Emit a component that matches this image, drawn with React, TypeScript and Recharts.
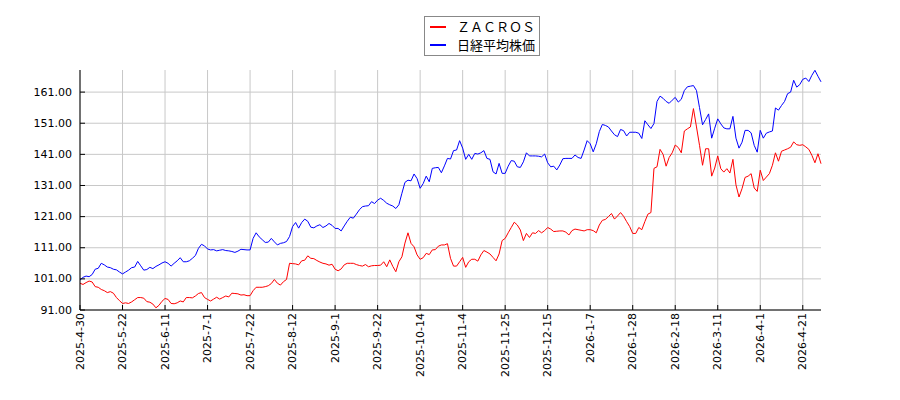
import React from 'react';
import { LineChart, Line, XAxis, YAxis, CartesianGrid } from 'recharts';

// trading-day tick labels, one every 14 sessions
const tickLabels = [
  '2025-4-30', '2025-5-22', '2025-6-11', '2025-7-1', '2025-7-22', '2025-8-12',
  '2025-9-1', '2025-9-22', '2025-10-14', '2025-11-4', '2025-11-25', '2025-12-15',
  '2026-1-7', '2026-1-28', '2026-2-18', '2026-3-11', '2026-4-1', '2026-4-21',
];

const yTicks = [91, 101, 111, 121, 131, 141, 151, 161];

const zacros = [
  99.6, 99.2, 99.8, 100.3, 100.0, 98.5, 98.3, 97.6, 97.2, 96.6,
  96.9, 96.4, 95.0, 94.0, 93.1, 93.3, 93.1, 93.6, 94.3, 95.0,
  95.0, 94.8, 93.7, 93.5, 92.9, 91.7, 92.5, 93.8, 94.7, 94.4,
  93.1, 93.0, 93.3, 93.9, 93.6, 95.0, 95.0, 94.9, 95.5, 96.3,
  96.6, 95.0, 94.4, 93.9, 94.5, 95.1, 94.5, 95.0, 95.5, 95.2,
  96.4, 96.3, 96.2, 95.8, 95.9, 95.6, 95.6, 97.2, 98.3, 98.3,
  98.3, 98.5, 98.8, 99.5, 100.8, 99.6, 99.0, 100.1, 100.8, 106.0,
  105.9, 105.8, 105.5, 106.8, 107.0, 108.4, 107.6, 107.5, 106.9, 106.4,
  106.0, 105.8, 105.4, 105.7, 104.1, 103.6, 104.2, 105.5, 106.0, 106.0,
  106.0, 105.6, 105.3, 105.1, 105.6, 104.9, 105.2, 105.3, 105.3, 105.4,
  106.5, 104.9, 107.1, 105.0, 103.3, 106.5, 108.1, 112.5, 115.8, 112.4,
  111.3, 108.7, 107.3, 107.8, 109.2, 108.8, 110.3, 110.4, 111.5, 111.9,
  111.9, 112.3, 107.6, 105.1, 105.1, 106.5, 107.9, 104.7, 106.5, 107.3,
  107.3, 106.7, 108.7, 110.1, 109.6, 109.0, 107.9, 106.8, 109.0, 113.3,
  114.0, 115.8, 117.5, 119.2, 118.3, 116.7, 113.3, 115.6, 114.3, 115.8,
  115.6, 116.5, 115.8, 116.5, 117.5, 117.0, 116.2, 116.3, 116.4, 116.4,
  116.0, 115.1, 116.5, 117.0, 116.8, 116.6, 116.4, 116.8, 116.8, 116.5,
  115.8, 118.3, 119.8, 120.1, 121.0, 122.0, 120.2, 121.2, 122.3, 121.1,
  119.4, 117.8, 115.6, 115.6, 117.5, 116.8, 119.4, 121.8, 122.3, 136.5,
  137.0, 142.6, 141.0, 137.2, 140.0, 141.5, 144.0, 143.2, 141.5, 148.5,
  149.2, 149.8, 155.7, 149.8, 143.9, 137.5, 142.8, 142.8, 134.0, 136.6,
  140.5, 136.4, 135.3, 136.4, 135.0, 139.4, 131.2, 127.3, 130.0, 133.6,
  134.0, 134.8, 130.2, 129.1, 135.9, 132.6, 133.7, 134.8, 137.5, 141.5,
  138.8, 142.0, 142.4, 142.8, 143.3, 145.0, 144.1, 143.9, 144.1, 143.4,
  142.6, 140.7, 138.3, 141.2, 138.0,
];

const nikkei = [
  100.6, 101.5, 101.9, 101.7, 102.4, 104.1, 104.4, 106.0, 105.5, 104.8,
  104.6, 104.1, 103.9, 103.2, 102.6, 103.2, 103.8, 104.6, 104.8, 106.6,
  105.2, 103.8, 104.0, 104.7, 104.3, 105.0, 105.5, 106.1, 106.5, 106.0,
  105.1, 106.0, 106.8, 107.8, 106.5, 106.5, 106.8, 107.6, 108.5, 110.8,
  112.1, 111.6, 110.6, 110.3, 110.4, 110.0, 110.2, 110.4, 110.1, 110.0,
  109.8, 109.5, 109.9, 110.5, 110.4, 110.3, 110.3, 114.0, 115.8, 114.5,
  113.6, 112.7, 112.8, 114.0, 112.9, 111.9, 112.4, 112.6, 113.0, 114.6,
  117.8, 119.1, 117.3, 119.1, 120.2, 119.5, 117.6, 117.4, 118.0, 118.4,
  117.5, 118.0, 118.8, 118.2, 117.2, 117.2, 116.4, 118.0, 119.5, 120.8,
  120.5, 121.8, 123.2, 124.2, 124.4, 124.5, 125.8, 125.2, 126.3, 126.9,
  126.2, 125.3, 124.8, 124.4, 123.6, 124.8, 128.5, 132.0, 132.7, 132.5,
  134.7, 133.2, 130.1, 131.6, 134.0, 132.2, 136.5, 136.7, 136.8, 135.1,
  137.3, 139.7, 139.5, 142.2, 142.4, 145.4, 143.0, 139.4, 141.0, 139.4,
  141.3, 141.1, 141.5, 142.2, 139.7, 139.4, 135.4, 134.7, 138.1, 134.9,
  134.9, 137.2, 139.0, 138.8, 137.0, 136.8, 138.6, 141.5, 140.5, 140.5,
  140.5, 140.4, 140.2, 141.1, 138.3, 137.0, 137.2, 136.0, 137.6, 139.6,
  139.7, 139.7, 139.7, 140.8, 140.0, 139.7, 142.4, 145.4, 144.4, 141.8,
  144.4, 148.3, 150.6, 150.3, 149.8, 148.5, 147.3, 146.7, 149.0, 148.6,
  146.9, 148.1, 148.1, 148.1, 147.8, 146.1, 151.8, 150.5, 149.3, 150.9,
  158.0, 159.7, 159.0, 158.0, 157.4, 158.4, 159.3, 157.8, 158.7, 161.5,
  162.7, 162.9, 163.1, 161.5, 156.0, 150.5, 152.2, 154.0, 146.2, 149.4,
  152.4, 150.8, 149.5, 149.2, 149.2, 153.2, 146.2, 143.0, 144.9, 148.7,
  148.7, 147.9, 143.9, 141.7, 148.7, 146.2, 147.8, 148.2, 148.5, 155.9,
  155.2, 156.7, 158.0, 160.5, 161.0, 164.8, 162.6, 163.4, 165.1, 165.5,
  164.4, 166.4, 168.0, 166.1, 164.3,
];

const data = zacros.map((v, i) => ({ i, zacros: v, nikkei: nikkei[i] }));
const xTicks = tickLabels.map((_, k) => k * 14);

const FONT = '"DejaVu Sans", sans-serif';

const XTick = ({ x, y, payload }: any) => (
  <g>
    <line x1={x} y1={y} x2={x} y2={y - 5} stroke="#000" />
    <text
      transform={`translate(${x},${y + 3}) rotate(-90)`}
      textAnchor="end"
      dominantBaseline="central"
      fontSize={11}
      fontFamily={FONT}
      fill="#000"
    >
      {tickLabels[xTicks.indexOf(payload.value)]}
    </text>
  </g>
);

const YTick = ({ x, y, payload }: any) => (
  <g>
    <line x1={x} y1={y} x2={x + 5} y2={y} stroke="#000" />
    <text
      x={x - 8}
      y={y}
      textAnchor="end"
      dominantBaseline="central"
      fontSize={11}
      fontFamily={FONT}
      fill="#000"
    >
      {payload.value.toFixed(2)}
    </text>
  </g>
);

const legendItems = [
  { name: 'ＺＡＣＲＯＳ', color: '#ff0000' },
  { name: '日経平均株価', color: '#0000ff' },
];

export default function App() {
  return (
    <div style={{ position: 'absolute', left: 0, top: 0, width: 900, height: 400, background: '#fff' }}>
      <LineChart width={900} height={400} data={data} margin={{ top: 70, right: 79, bottom: 0, left: 0 }}>
        <CartesianGrid stroke="#c8c8c8" syncWithTicks />
        <XAxis
          dataKey="i"
          type="number"
          domain={[0, 244]}
          ticks={xTicks}
          interval={0}
          height={90}
          tickSize={0}
          tickMargin={0}
          tickLine={false}
          axisLine={{ stroke: '#000' }}
          tick={<XTick />}
        />
        <YAxis
          type="number"
          domain={[91, 168.1]}
          ticks={yTicks}
          interval={0}
          width={80}
          tickSize={0}
          tickMargin={0}
          tickLine={false}
          axisLine={{ stroke: '#000' }}
          tick={<YTick />}
          allowDataOverflow
        />
        <Line dataKey="zacros" stroke="#ff0000" strokeWidth={1} dot={false} isAnimationActive={false} />
        <Line dataKey="nikkei" stroke="#0000ff" strokeWidth={1} dot={false} isAnimationActive={false} />
      </LineChart>
      <div
        style={{
          position: 'absolute',
          left: 424,
          top: 16,
          width: 114,
          height: 38,
          border: '1px solid #888',
          background: '#fff',
          fontFamily: '"Noto Sans CJK JP", sans-serif',
          fontSize: 13,
          color: '#000',
        }}
      >
        {legendItems.map((it, k) => (
          <div key={it.name} style={{ position: 'absolute', left: 0, top: 1 + k * 18, height: 18, display: 'flex', alignItems: 'center' }}>
            <span style={{ display: 'inline-block', marginLeft: 5, width: 16, height: 2, background: it.color }} />
            <span style={{ marginLeft: 11, whiteSpace: 'nowrap', lineHeight: '18px' }}>{it.name}</span>
          </div>
        ))}
      </div>
    </div>
  );
}
